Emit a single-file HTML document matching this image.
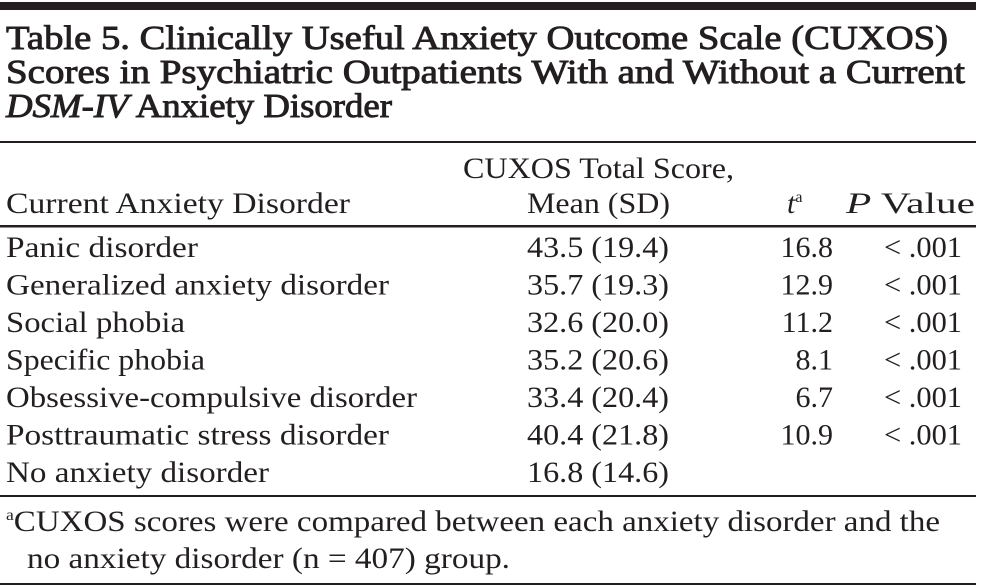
<!DOCTYPE html>
<html><head><meta charset="utf-8"><style>
html,body{margin:0;padding:0;background:#fff;}
svg{display:block;font-family:"Liberation Serif",serif;fill:#231f20;}
.t{font-size:34px;font-weight:normal;stroke:#231f20;stroke-width:0.9;}
.b{font-size:30px;}
</style></head><body>
<svg width="983" height="587" viewBox="0 0 983 587">
<rect x="0" y="2" width="976" height="8" fill="#231f20"/>
<g>
<text class="t" x="6" y="49" textLength="942" lengthAdjust="spacingAndGlyphs">Table 5. Clinically Useful Anxiety Outcome Scale (CUXOS)</text>
<text class="t" x="6" y="83" textLength="959" lengthAdjust="spacingAndGlyphs">Scores in Psychiatric Outpatients With and Without a Current</text>
<text class="t" x="6" y="117" textLength="386" lengthAdjust="spacingAndGlyphs"><tspan font-style="italic">DSM-IV</tspan> Anxiety Disorder</text>
</g>
<rect x="0" y="141" width="976" height="2" fill="#231f20"/>
<g class="b">
<text x="463" y="178" textLength="271" lengthAdjust="spacingAndGlyphs">CUXOS Total Score,</text>
<text x="6" y="213" textLength="344" lengthAdjust="spacingAndGlyphs">Current Anxiety Disorder</text>
<text x="527" y="213" textLength="143" lengthAdjust="spacingAndGlyphs">Mean (SD)</text>
<text x="787" y="213" font-style="italic">t<tspan font-size="16" dy="-11" font-style="normal">a</tspan></text>
<text x="846" y="213" textLength="129" lengthAdjust="spacingAndGlyphs"><tspan font-style="italic">P</tspan> Value</text>
</g>
<rect x="0" y="225" width="976" height="2.5" fill="#231f20"/>
<g class="b" id="rows"></g>
<rect x="0" y="495" width="976" height="2" fill="#231f20"/>
<g class="b">
<text x="6" y="531" textLength="934" lengthAdjust="spacingAndGlyphs"><tspan font-size="16" dy="-11">a</tspan><tspan dy="11">CUXOS scores were compared between each anxiety disorder and the</tspan></text>
<text x="27" y="568" textLength="483" lengthAdjust="spacingAndGlyphs">no anxiety disorder (n = 407) group.</text>
</g>
<rect x="0" y="583" width="976" height="2" fill="#231f20"/>
</svg>
<script>
const disorders=["Panic disorder","Generalized anxiety disorder","Social phobia","Specific phobia","Obsessive-compulsive disorder","Posttraumatic stress disorder","No anxiety disorder"];
const means=["43.5 (19.4)","35.7 (19.3)","32.6 (20.0)","35.2 (20.6)","33.4 (20.4)","40.4 (21.8)","16.8 (14.6)"];
const tvals=["16.8","12.9","11.2","8.1","6.7","10.9",""];
const pvals=["<.001","<.001","<.001","<.001","<.001","<.001",""];
const labelWidths=[192,383,179,199,411,383,263];
const g=document.getElementById('rows');
const NS="http://www.w3.org/2000/svg";
function txt(parent,x,y,s,anchor,len){const t=document.createElementNS(NS,'text');t.setAttribute('x',x);t.setAttribute('y',y);if(anchor)t.setAttribute('text-anchor',anchor);if(len){t.setAttribute('textLength',len);t.setAttribute('lengthAdjust','spacingAndGlyphs');}t.textContent=s;parent.appendChild(t);return t;}
disorders.forEach((d,i)=>{
  const y=257+i*37.5;
  const row=document.createElementNS(NS,'g');
  
  
  const a=txt(row,6,y,d,null,labelWidths[i]);
  
  
  const b=txt(row,527,y,means[i],null,142);
  
  
  if(tvals[i]){const c=txt(row,833,y,tvals[i],'end');
  
  }
  if(pvals[i]){const p=txt(row,884,y,pvals[i].replace('<','< '),null,78);
  
  }
  g.appendChild(row);
});
</script>
</body></html>
